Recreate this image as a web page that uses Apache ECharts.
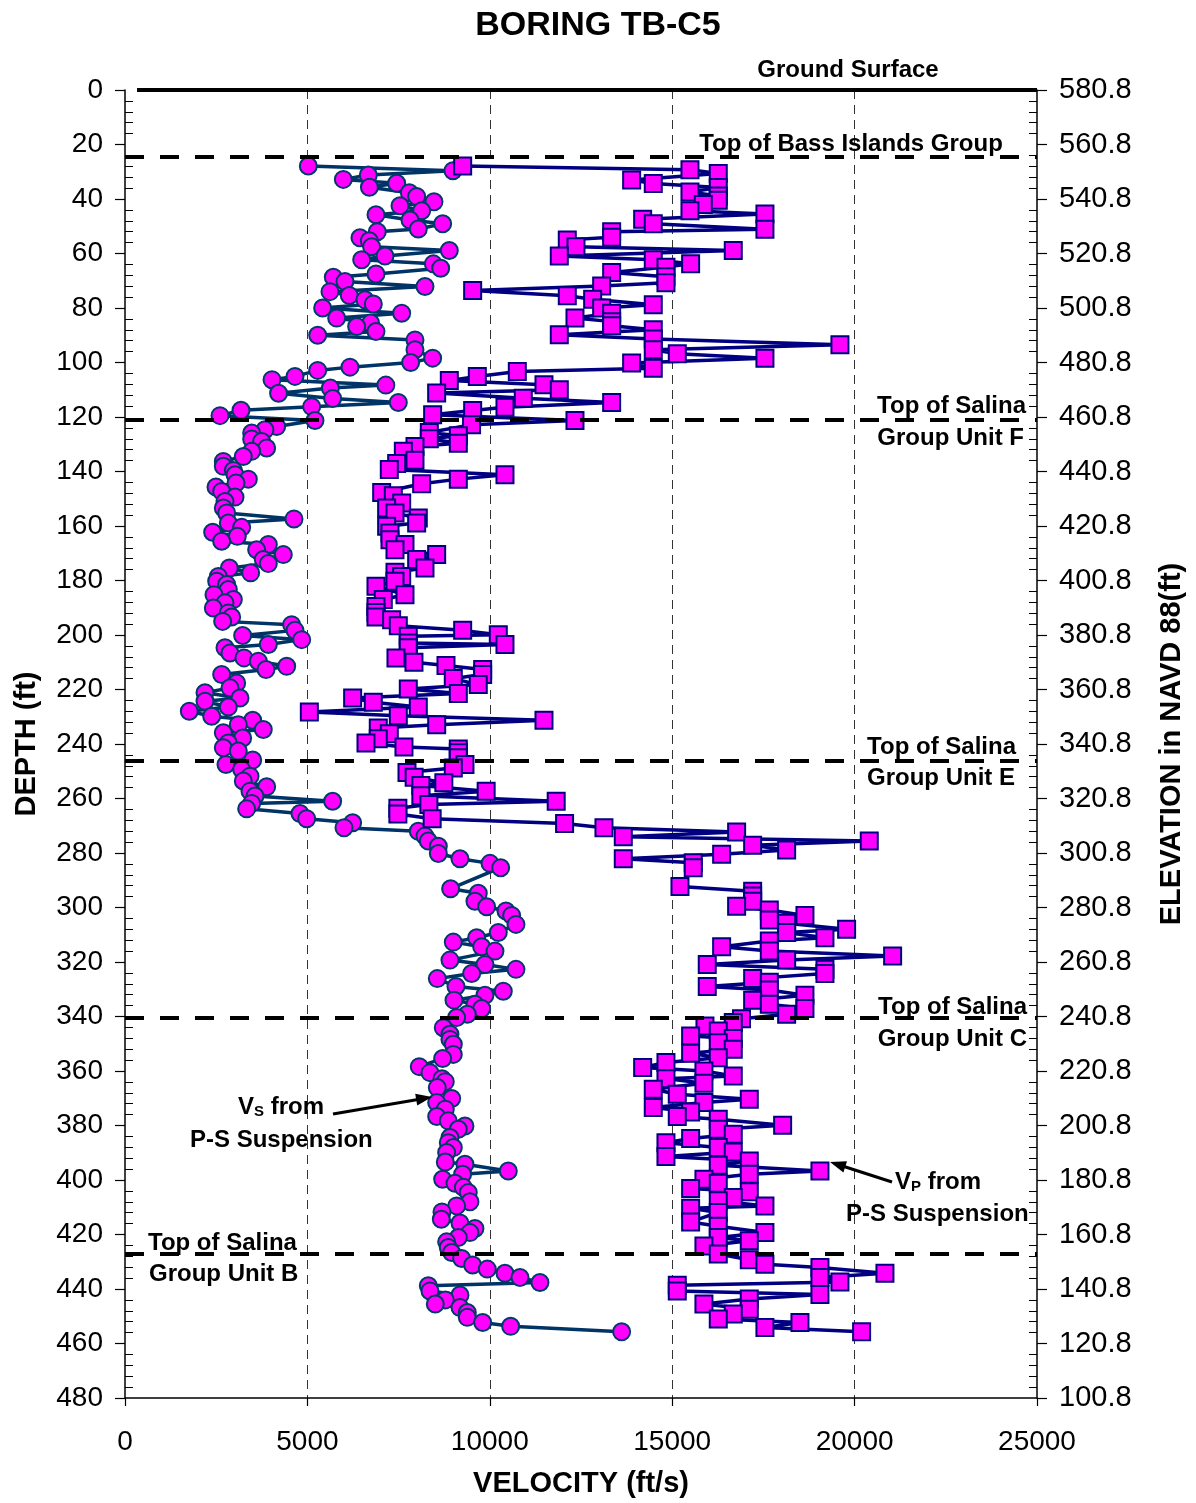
<!DOCTYPE html>
<html>
<head>
<meta charset="utf-8">
<script src="https://cdn.jsdelivr.net/npm/echarts@6/dist/echarts.min.js"></script>
<style>
html,body{margin:0;padding:0;background:#fff;}
#chart{width:1196px;height:1503px;}
</style>
</head>
<body>
<div id="chart"></div>
<script>
// ---------- DATA ----------
const chartTitle = 'BORING TB-C5';
const elevationLabels = ['580.8','560.8','540.8','520.8','500.8','480.8','460.8','440.8','420.8','400.8','380.8','360.8','340.8','320.8','300.8','280.8','260.8','240.8','220.8','200.8','180.8','160.8','140.8','120.8','100.8'];
// [depth (ft), Vs (ft/s)]
const vsPoints = [[27.9,5025],[29.6,8990],[31.2,6670],[32.8,5985],[34.2,7447],[35.7,6700],[37.7,7795],[39.1,7995],[41.0,8470],[42.5,7538],[44.3,8132],[45.8,6880],[47.7,7812],[49.1,8708],[51.0,8040],[52.0,6916],[54.2,6441],[55.3,6697],[57.5,6760],[58.9,8890],[60.9,7127],[62.3,6488],[63.8,8452],[65.4,8653],[67.5,6880],[68.7,5710],[70.3,6030],[72.1,8223],[74.0,5619],[75.4,6149],[77.0,6578],[78.5,6807],[80.0,5418],[81.9,7584],[83.7,5802],[85.5,6733],[86.8,6350],[88.6,6880],[90.0,5282],[91.7,7949],[95.3,7949],[98.4,8433],[100.0,7830],[101.7,6167],[102.9,5282],[105.1,4660],[106.3,4030],[108.3,7150],[109.4,5630],[111.3,4210],[113.2,5692],[114.7,7492],[116.2,5117],[117.5,3180],[119.5,2604],[121.3,5208],[123.5,4158],[124.7,3837],[125.9,3472],[128.1,3472],[129.0,3746],[131.4,3883],[132.6,3472],[134.5,3243],[136.3,2695],[138.1,2695],[139.6,2970],[141.2,3016],[142.8,3380],[144.2,3043],[145.7,2494],[147.3,2650],[149.4,3016],[151.0,2741],[153.4,2695],[155.2,2787],[157.4,4632],[158.9,2832],[160.5,3198],[162.3,2403],[163.8,3079],[165.6,2650],[166.8,3929],[168.7,3609],[170.5,4340],[172.3,3791],[173.8,3929],[175.4,2860],[177.2,3445],[178.5,2558],[180.3,2513],[181.5,2787],[183.3,2832],[185.2,2439],[187.0,2970],[188.2,2741],[190.1,2421],[191.9,2832],[193.4,2924],[195.0,2677],[196.2,4568],[198.3,4660],[200.2,3225],[201.7,4843],[203.5,3929],[204.7,2741],[206.6,2878],[208.4,3262],[209.6,3654],[211.5,4432],[212.7,3865],[214.5,2650],[217.6,3061],[219.4,2878],[221.2,2193],[223.1,3152],[224.3,2193],[226.4,2832],[228.0,1763],[229.8,2376],[231.3,3500],[232.9,3106],[234.7,3791],[235.9,2695],[237.8,3225],[239.6,2832],[241.4,2695],[242.6,3106],[245.9,3500],[247.5,2768],[249.4,3198],[251.8,3426],[253.6,3243],[255.7,3883],[257.3,3426],[259.1,3563],[261.0,5692],[261.8,3472],[263.8,3335],[265.5,4797],[267.4,4980],[268.9,6240],[270.7,6003],[272.0,8040],[273.8,8223],[275.6,8315],[277.5,8589],[280.2,8589],[282.1,9182],[283.8,10005],[285.4,10298],[293.1,8926],[294.8,9684],[297.7,9593],[299.7,9913],[301.3,10443],[302.9,10599],[306.2,10717],[309.2,10233],[311.1,9640],[312.7,8999],[314.4,9777],[316.0,10142],[319.3,8908],[320.9,9868],[322.7,10717],[324.2,9503],[326.1,8561],[329.0,9073],[330.7,10370],[332.2,9868],[334.0,9018],[335.5,9593],[337.1,9777],[339.2,9384],[340.4,9091],[344.1,8725],[346.5,8908],[348.4,8908],[350.2,9000],[353.9,8999],[355.4,8708],[358.4,8067],[360.6,8360],[362.8,8689],[363.9,8780],[366.1,8561],[370.1,8955],[371.6,8544],[374.0,8780],[376.7,8544],[378.3,8862],[380.2,9319],[381.4,9137],[384.4,8908],[386.3,8862],[388.1,9000],[389.9,8817],[393.4,8780],[394.2,9319],[396.7,10507],[397.9,9255],[399.7,8708],[401.2,9045],[402.7,9274],[404.6,9410],[408.0,9456],[409.5,9091],[411.7,8689],[414.4,8671],[415.8,9182],[417.8,9593],[419.3,9456],[421.1,9137],[422.7,8817],[424.8,8862],[426.6,8954],[428.8,9228],[431.2,9530],[432.7,9931],[434.2,10416],[435.8,10827],[437.6,11375],[438.8,8314],[440.7,8360],[442.2,9182],[444.0,8780],[445.5,8506],[446.8,9182],[448.6,9383],[450.4,9383],[452.3,9804],[453.7,10571],[455.7,13614]];
// [depth (ft), Vp (ft/s)]
const vpPoints = [[27.9,9256],[29.3,15487],[30.6,16263],[33.0,13888],[34.3,14481],[35.8,16263],[37.4,15487],[38.9,16263],[40.5,16263],[42.0,15852],[44.3,15487],[45.5,17542],[47.4,14190],[49.1,14481],[51.1,17542],[52.0,13340],[54.0,13340],[55.0,12124],[57.5,12362],[58.9,16674],[60.9,11905],[62.3,14481],[63.8,15505],[65.0,14829],[67.0,13340],[68.5,14829],[70.7,14829],[71.9,13066],[73.6,9530],[75.5,12124],[76.8,12819],[78.8,14481],[80.0,13066],[81.9,13340],[83.7,12335],[85.0,13340],[86.5,13340],[88.0,14481],[89.8,11905],[91.4,14481],[93.5,19598],[95.3,14481],[96.8,15140],[98.4,17542],[100.2,13888],[102.1,14481],[103.3,10754],[105.1,9658],[106.6,8890],[108.2,11485],[110.0,11905],[111.2,8543],[113.1,10918],[114.7,13340],[116.4,10416],[117.6,9530],[119.2,8433],[121.3,12335],[122.8,9500],[125.7,8342],[126.9,9137],[128.0,8342],[129.6,9137],[130.8,7949],[132.6,7630],[135.9,7949],[137.1,7447],[139.3,7245],[141.2,10416],[142.8,9137],[144.5,8132],[147.7,7036],[148.9,7355],[151.6,7584],[153.4,7172],[155.2,7401],[157.1,8040],[158.9,7995],[160.1,7172],[162.6,7264],[165.0,7264],[166.8,7675],[168.7,7401],[170.5,8543],[172.3,7995],[175.4,8223],[177.0,7401],[178.5,7584],[180.3,7401],[182.1,6880],[185.2,7675],[187.0,7080],[189.5,6880],[191.7,6880],[193.4,6880],[194.4,7309],[196.6,7492],[198.3,9256],[199.9,10233],[200.5,7765],[202.9,7765],[203.5,10416],[204.7,7765],[208.4,7428],[210.0,7921],[211.2,8799],[212.7,9804],[214.5,9804],[216.0,8999],[218.2,9684],[219.8,7766],[221.5,9137],[223.1,6240],[224.7,6806],[226.4,8040],[228.3,5053],[229.6,7492],[231.3,11485],[232.9,8544],[234.1,6943],[236.2,7245],[238.1,6943],[239.6,6606],[241.1,7647],[241.8,9137],[243.2,9137],[245.0,9137],[247.5,9319],[248.8,8999],[250.5,7730],[252.2,7926],[254.2,8740],[255.2,8110],[257.3,9900],[259.0,8110],[261.0,11820],[262.2,8330],[263.6,7480],[265.7,7480],[267.4,8420],[269.2,12050],[270.7,13129],[272.3,16766],[274.0,13659],[275.6,20402],[277.2,17205],[278.9,18137],[280.5,16355],[282.1,13659],[283.6,15577],[285.4,15577],[292.3,15213],[294.0,17205],[295.8,17205],[297.7,17205],[299.5,16766],[300.9,17662],[302.9,18639],[304.6,17662],[305.8,18137],[308.0,19781],[309.2,18137],[311.1,19187],[312.3,17662],[314.4,16355],[316.0,17662],[317.8,21042],[319.3,18137],[320.9,15961],[322.7,19187],[324.2,19187],[326.1,17205],[327.4,17662],[329.0,15961],[330.3,17662],[332.2,18639],[334.0,17205],[335.5,17662],[337.1,18639],[339.2,18137],[340.8,16900],[342.2,16674],[343.5,15898],[345.3,16263],[347.2,15505],[348.1,16674],[349.6,16263],[352.0,16674],[353.5,15505],[355.1,16263],[356.9,14829],[358.7,14190],[360.0,15870],[361.8,16674],[362.8,14829],[364.5,15870],[366.7,14481],[368.5,15139],[370.4,17113],[371.6,15870],[373.4,14481],[375.0,15505],[376.7,15139],[377.7,16263],[379.9,18027],[381.4,16263],[383.2,16674],[384.8,15505],[386.3,14829],[388.1,16263],[389.7,16674],[391.4,14829],[393.0,17113],[394.6,16263],[396.7,19050],[397.9,17113],[399.7,15870],[401.2,16263],[403.1,15505],[404.3,17113],[406.4,16674],[407.6,16263],[409.5,17542],[410.4,15505],[411.9,16263],[415.4,15505],[417.0,16263],[419.3,17542],[421.1,16263],[422.3,17113],[424.2,15870],[427.2,16263],[429.3,17113],[430.9,17542],[432.1,19050],[434.2,20832],[435.8,19050],[437.4,19598],[438.6,15139],[440.7,15139],[442.0,19050],[443.7,17113],[445.5,15870],[447.4,17113],[449.2,16674],[451.0,16263],[452.3,18502],[454.1,17542],[455.7,20192]];
// geologic horizons (depth, ft)
const groundSurfaceDepth = 0;
const horizonDepths = [24.6, 121.0, 246.0, 340.6, 427.0];

// ---------- CHART ----------
const FONT = "'Liberation Sans', Arial, sans-serif";
const chart = echarts.init(document.getElementById('chart'), null, {renderer: 'canvas'});

const boldText = (x, y, text, align) => ({
  type: 'text', x: x, y: y, silent: true, z: 100,
  style: {text: text, fill: '#000', font: 'bold 24px ' + FONT, textAlign: align || 'left', textVerticalAlign: 'middle'}
});
const subText = (x, y, main, sub) => ({
  type: 'text', x: x, y: y, silent: true, z: 100,
  style: {
    text: '{a|' + main + '}{s|' + sub + '}{a| from}', textVerticalAlign: 'middle',
    rich: {
      a: {font: 'bold 24px ' + FONT, fill: '#000', lineHeight: 28, verticalAlign: 'bottom'},
      s: {font: 'bold 15px ' + FONT, fill: '#000', lineHeight: 22, verticalAlign: 'bottom'}
    }
  }
});

const option = {
  animation: false,
  backgroundColor: '#fff',
  title: {
    text: chartTitle, left: 'center', top: 4,
    textStyle: {fontFamily: FONT, fontWeight: 'bold', fontSize: 34, color: '#000'}
  },
  grid: {left: 125, right: 159, top: 90, bottom: 104, containLabel: false},
  xAxis: {
    type: 'value', min: 0, max: 25000, interval: 5000,
    name: 'VELOCITY (ft/s)', nameLocation: 'middle', nameGap: 71,
    nameTextStyle: {fontFamily: FONT, fontWeight: 'bold', fontSize: 29, color: '#000'},
    axisLine: {show: true, onZero: false, lineStyle: {color: '#000', width: 1.5}},
    axisTick: {show: true, length: 8, lineStyle: {color: '#000', width: 1.2}},
    axisLabel: {fontFamily: FONT, fontSize: 28, color: '#000', margin: 30, formatter: v => String(v)},
    splitLine: {show: true, showMinLine: false, showMaxLine: false, lineStyle: {color: '#333', width: 1, type: [9, 6]}}
  },
  yAxis: [
    {
      type: 'value', inverse: true, min: 0, max: 480, interval: 20, position: 'left',
      name: 'DEPTH (ft)', nameLocation: 'middle', nameGap: 84, nameRotate: 90,
      nameTextStyle: {fontFamily: FONT, fontWeight: 'bold', fontSize: 29, color: '#000'},
      axisLine: {show: true, onZero: false, lineStyle: {color: '#000', width: 1.5}},
      axisTick: {show: true, length: 10, lineStyle: {color: '#000', width: 1.2}},
      minorTick: {show: true, splitNumber: 5, length: -8, lineStyle: {color: '#000', width: 1}},
      axisLabel: {fontFamily: FONT, fontSize: 28, color: '#000', margin: 22, formatter: v => String(v)},
      splitLine: {show: false}
    },
    {
      type: 'value', inverse: true, min: 0, max: 480, interval: 20, position: 'right',
      name: 'ELEVATION in NAVD 88(ft)', nameLocation: 'middle', nameGap: 120, nameRotate: 90,
      nameTextStyle: {fontFamily: FONT, fontWeight: 'bold', fontSize: 29, color: '#000'},
      axisLine: {show: true, onZero: false, lineStyle: {color: '#000', width: 1.5}},
      axisTick: {show: true, length: 10, lineStyle: {color: '#000', width: 1.2}},
      minorTick: {show: true, splitNumber: 5, length: -8, lineStyle: {color: '#000', width: 1}},
      axisLabel: {fontFamily: FONT, fontSize: 29, color: '#000', margin: 22,
        formatter: v => elevationLabels[Math.round(v / 20)]},
      splitLine: {show: false}
    }
  ],
  series: [
    {
      name: 'Vs', type: 'line', yAxisIndex: 0, z: 3,
      data: vsPoints.map(p => [p[1], p[0]]),
      symbol: 'circle', symbolSize: 17,
      lineStyle: {color: '#003366', width: 3.5},
      itemStyle: {color: '#FF00FF', borderColor: '#003a6b', borderWidth: 2},
      markLine: {
        silent: true, symbol: 'none', animation: false, z: 10,
        label: {show: false},
        data: horizonDepths.map(d => ({yAxis: d, lineStyle: {color: '#000', width: 4, type: [19, 16]}}))
          .concat([[{coord: [330, groundSurfaceDepth], lineStyle: {color: '#000', width: 4, type: 'solid'}}, {coord: [25000, groundSurfaceDepth]}]])
      }
    },
    {
      name: 'Vp', type: 'line', yAxisIndex: 0, z: 4,
      data: vpPoints.map(p => [p[1], p[0]]),
      symbol: 'rect', symbolSize: 17,
      lineStyle: {color: '#000080', width: 3.5},
      itemStyle: {color: '#FF00FF', borderColor: '#000080', borderWidth: 2}
    }
  ],
  graphic: [
    boldText(848, 70, 'Ground Surface', 'center'),
    boldText(851, 144, 'Top of Bass Islands Group', 'center'),
    boldText(1026, 406, 'Top of Salina', 'right'),
    boldText(1024, 438, 'Group Unit F', 'right'),
    boldText(1016, 747, 'Top of Salina', 'right'),
    boldText(1015, 778, 'Group Unit E', 'right'),
    boldText(1027, 1007, 'Top of Salina', 'right'),
    boldText(1027, 1039, 'Group Unit C', 'right'),
    boldText(148, 1243, 'Top of Salina', 'left'),
    boldText(149, 1274, 'Group Unit B', 'left'),
    subText(238, 1105, 'V', 'S'),
    boldText(190, 1140, 'P-S Suspension', 'left'),
    subText(895, 1180, 'V', 'P'),
    boldText(846, 1214, 'P-S Suspension', 'left'),
    // arrows
    {type: 'line', silent: true, z: 100, shape: {x1: 333, y1: 1114, x2: 418, y2: 1099.5}, style: {stroke: '#000', lineWidth: 3}},
    {type: 'polygon', silent: true, z: 100, shape: {points: [[432, 1097], [417.2, 1105.6], [415.2, 1093.8]]}, style: {fill: '#000'}},
    {type: 'line', silent: true, z: 100, shape: {x1: 892, y1: 1182, x2: 844, y2: 1166.5}, style: {stroke: '#000', lineWidth: 3}},
    {type: 'polygon', silent: true, z: 100, shape: {points: [[830, 1162], [847.0, 1161.2], [843.4, 1172.6]]}, style: {fill: '#000'}}
  ]
};
chart.setOption(option);
</script>
</body>
</html>
